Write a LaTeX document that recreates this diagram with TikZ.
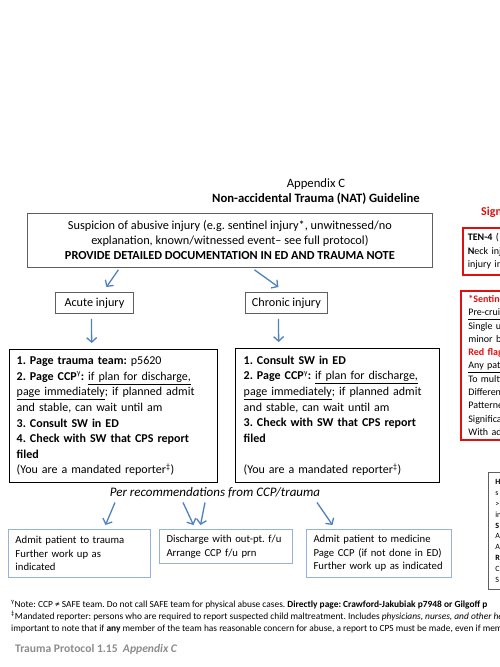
\documentclass[tikz,border=0pt]{standalone}
\usepackage{fontspec}
\setmainfont{Carlito}
\usetikzlibrary{arrows.meta,calc}
\definecolor{arrowblue}{RGB}{79,129,189}
\definecolor{lightblue}{RGB}{149,179,215}
\definecolor{boxgray}{RGB}{95,95,95}
\definecolor{redmark}{RGB}{222,16,16}
\definecolor{footgray}{RGB}{140,140,140}
\frenchspacing
\begin{document}
\begin{tikzpicture}[x=1pt,y=-1pt,
  flow/.style={draw=arrowblue, line width=1.3pt, -{Straight Barb[length=4.5pt,width=10pt]}},
  mainbox/.style={draw=boxgray, line width=0.8pt, align=center, font=\fontsize{12.3}{15}\selectfont, inner sep=0pt, anchor=north west},
  kindbox/.style={draw=boxgray, line width=0.8pt, font=\fontsize{12.2}{14}\selectfont, inner sep=0pt, anchor=north west},
  stepsbox/.style={draw=black, line width=1.4pt, align=left, font=\fontsize{12}{15.6}\selectfont, inner ysep=0pt, anchor=north west},
  outbox/.style={draw=lightblue, line width=1pt, align=left, font=\fontsize{10.7}{13.5}\selectfont, inner xsep=7pt, inner ysep=0pt, anchor=north west},
  redbox/.style={draw=redmark, line width=1.8pt, align=left, font=\fontsize{10}{13.3}\selectfont, inner ysep=0pt, anchor=north west},
  sidebox/.style={draw=boxgray, line width=0.8pt, align=left, font=\fontsize{8}{10.9}\selectfont, inner xsep=7pt, inner ysep=0pt, anchor=north west},
  note/.style={font=\fontsize{9.4}{12}\selectfont, anchor=base west, inner sep=0pt}
]
\useasboundingbox (0,0) rectangle (500,667);
\clip (0,0) rectangle (500,667);

% titles
\node[font=\fontsize{12.7}{15}\selectfont, anchor=base, inner sep=0pt] (app) at (316,187) {Appendix C};
\node[font=\fontsize{12.7}{15}\selectfont\bfseries, anchor=base, inner sep=0pt] (title) at (316,202.5) {Non-accidental Trauma (NAT) Guideline};

% main box
\node[mainbox, minimum width=405, minimum height=54] (susp) at (27,213)
  {Suspicion of abusive injury (e.g. sentinel injury*, unwitnessed/no\\
   explanation, known/witnessed event– see full protocol)\\
   \textbf{PROVIDE DETAILED DOCUMENTATION IN ED AND TRAUMA NOTE}};

% kinds
\node[kindbox, minimum width=78, minimum height=21] (acute) at (55,292) {Acute injury};
\node[kindbox, minimum width=82, minimum height=21] (chronic) at (245,292) {Chronic injury};

\draw[flow] ($(susp.south)+(-111.5,2)$) -- ($(acute.north)+(12,-5)$);
\draw[flow] ($(susp.south)+(24.5,2)$) -- ($(chronic.north)+(-8,-5)$);

% step boxes
\node[stepsbox, text width=194, inner xsep=7pt, minimum height=133] (acutesteps) at (9,349)
  {\textbf{1. Page trauma team:} p5620\\
   \textbf{2. Page CCP}\textsuperscript{γ}\textbf{:} \underline{if plan for discharge,}\\
   \underline{page immediately}; if planned admit\\
   and stable, can wait until am\\
   \textbf{3. Consult SW in ED}\\
   \textbf{4. Check with SW that CPS report}\\
   \textbf{filed}\\
   (You are a mandated reporter\textsuperscript{‡})};
\node[stepsbox, text width=188, inner xsep=8pt, minimum height=134] (chronicsteps) at (235,348)
  {\textbf{1. Consult SW in ED}\\
   \textbf{2. Page CCP}\textsuperscript{γ}\textbf{:} \underline{if plan for discharge,}\\
   \underline{page immediately}; if planned admit\\
   and stable, can wait until am\\
   \textbf{3. Check with SW that CPS report}\\
   \textbf{filed}\\
   \mbox{}\\
   (You are a mandated reporter\textsuperscript{‡})};

\draw[flow] ($(acute.south)+(-3,5)$) -- ($(acutesteps.north)+(-22,-6)$);
\draw[flow] ($(chronic.south)+(-8,5)$) -- ($(chronicsteps.north)+(-59,-6)$);

% recommendations
\node[font=\fontsize{13}{15}\selectfont\itshape, inner sep=0pt] (per) at (215,493) {Per recommendations from CCP/trauma};

\node[outbox, text width=128, minimum height=48] (admtrauma) at (8,529)
  {Admit patient to trauma\\Further work up as\\indicated};
\node[outbox, text width=119, minimum height=34] (disch) at (159,529)
  {Discharge with out-pt. f/u\\Arrange CCP f/u prn};
\node[outbox, text width=131, minimum height=48] (admmed) at (306,529)
  {Admit patient to medicine\\Page CCP (if not done in ED)\\Further work up as indicated};

\draw[flow] ($(per.south)+(-100,4)$) -- ($(admtrauma.north)+(26,-4)$);
\draw[flow] ($(per.south)+(-32,4)$) -- ($(disch.north)+(-32.5,-4)$);
\draw[flow] ($(per.south)+(-10,4)$) -- ($(disch.north)+(-25.5,-4)$);
\draw[flow] ($(per.south)+(102,4)$) -- ($(admmed.north)+(-46.5,-4)$);

% right-hand side panel (cut off by the page edge, as in the reference)
\node[font=\fontsize{12}{14}\selectfont\bfseries, text=redmark, anchor=west, inner sep=0pt] (signs) at (481,212) {Signs of};
\node[redbox, inner xsep=5pt, text width=100, minimum height=47] (tenfour) at (462,227)
  {\textbf{TEN-4} (\\\textbf{N}eck injury\\injury in};
\node[redbox, inner xsep=7.5pt, text width=100, minimum height=149] (sentinel) at (460,290)
  {{\color{redmark}\textbf{*Sentinel injuries}}\\
   \underline{Pre-cruising}\\
   Single unexplained\\
   minor bruise\\
   {\color{redmark}\textbf{Red flags}}\\
   \underline{Any patient}\\
   To multiple\\
   Different\\
   Patterned\\
   Significant\\
   With additional};
\node[sidebox, text width=100, minimum height=117] (side) at (488,472)
  {\textbf{H}\\s\\>\\in\\\textbf{S}\\A\\A\\\textbf{R}\\C\\S};

% footnotes
\node[note] (n1) at (11,607) {\textsuperscript{γ}Note: CCP ≠ SAFE team. Do not call SAFE team for physical abuse cases. \textbf{Directly page: Crawford-Jakubiak p7948 or Gilgoff p}};
\node[note] (n2) at (11,619) {\textsuperscript{‡}Mandated reporter: persons who are required to report suspected child maltreatment. Includes \textit{physicians, nurses, and other health}};
\node[note] (n3) at (11,631) {important to note that if \textbf{any} member of the team has reasonable concern for abuse, a report to CPS must be made, even if members};

\node[font=\fontsize{11.6}{13}\selectfont, text=footgray, anchor=base west, inner sep=0pt] (foot) at (15,652) {\textbf{Trauma Protocol 1.15}\ \ \textit{\textbf{Appendix C}}};
\end{tikzpicture}
\end{document}
